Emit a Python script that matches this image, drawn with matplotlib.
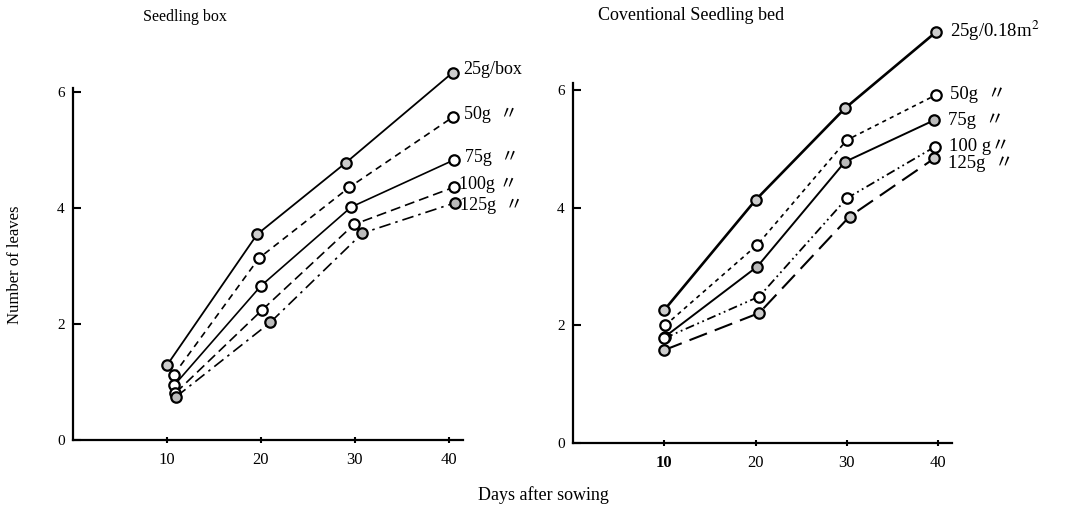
"""Number of leaves vs days after sowing: seedling box vs conventional seedling bed."""
import matplotlib
matplotlib.use("Agg")
import matplotlib.pyplot as plt

# ── data ──────────────────────────────────────────────────────────────────
series_names = ["25g", "50g", "75g", "100g", "125g"]

box_days = [
    [10.0, 19.6, 29.0, 40.4],
    [10.7, 19.8, 29.4, 40.4],
    [10.8, 20.0, 29.6, 40.5],
    [10.9, 20.1, 29.9, 40.5],
    [11.0, 21.0, 30.8, 40.6],
]
box_leaves = [
    [1.29, 3.55, 4.78, 6.34],
    [1.12, 3.14, 4.36, 5.57],
    [0.95, 2.66, 4.02, 4.83],
    [0.81, 2.24, 3.72, 4.36],
    [0.75, 2.03, 3.57, 4.09],
]
box_labels = ["25g/box", "50g  〃", "75g  〃", "100g 〃", "125g  〃"]

bed_days = [
    [10.0, 20.0, 29.8, 39.8],
    [10.1, 20.2, 30.0, 39.8],
    [10.1, 20.2, 29.8, 39.6],
    [10.0, 20.4, 30.0, 39.7],
    [10.0, 20.4, 30.3, 39.6],
]
bed_leaves = [
    [2.26, 4.13, 5.69, 6.99],
    [2.00, 3.37, 5.15, 5.92],
    [1.81, 3.00, 4.78, 5.49],
    [1.78, 2.49, 4.16, 5.04],
    [1.58, 2.21, 3.85, 4.84],
]
bed_labels = ["25g/0.18m$^2$", "50g  〃", "75g  〃", "100 g〃", "125g  〃"]

y_ticks = [0, 2, 4, 6]
x_ticks = [10, 20, 30, 40]

# ── styles ───────────────────────────────────────────────────────────────
FONT = ["Liberation Serif", "Noto Sans CJK JP"]
plt.rcParams["font.family"] = FONT
plt.rcParams["mathtext.fontset"] = "stix"

box_styles = [
    dict(ls="-", lw=1.3),
    dict(ls=(0, (4, 3)), lw=1.2),
    dict(ls="-", lw=1.2),
    dict(ls=(0, (6, 3)), lw=1.2),
    dict(ls=(0, (7, 3, 1.5, 3)), lw=1.2),
]
box_fill = ["#cccccc", "white", "white", "white", "#bbbbbb"]

bed_styles = [
    dict(ls="-", lw=1.9),
    dict(ls=(0, (2.5, 2.5)), lw=1.2),
    dict(ls="-", lw=1.4),
    dict(ls=(0, (5, 2, 1, 2, 1, 2)), lw=1.3),
    dict(ls=(0, (9, 4)), lw=1.5),
]
bed_fill = ["#cccccc", "white", "#bbbbbb", "white", "#cccccc"]

# label offsets (points) relative to last point
box_offsets = [(8, 2), (8, 2), (8, 2), (4, 2), (4, -2)]
bed_offsets = [(10, 1), (10, 0), (10, 0), (10, 0), (10, -4)]

fig = plt.figure(figsize=(10.67, 5.15), dpi=100)
ax1 = fig.add_axes([0.0684, 0.1456, 0.3655, 0.683])
ax2 = fig.add_axes([0.537, 0.1398, 0.355, 0.699])


def draw(ax, days, leaves, styles, fills, labels, offsets, ytop, lab_size):
    for d, v, st, fc, lab, off in zip(days, leaves, styles, fills, labels, offsets):
        ax.plot(d, v, color="black", marker="o", ms=7.5, mfc=fc, mec="black",
                mew=1.6, clip_on=False, **st)
        ax.annotate(lab, xy=(d[-1], v[-1]), xytext=off, textcoords="offset points",
                    ha="left", va="center", fontsize=lab_size, family=FONT,
                    annotation_clip=False)
    ax.set_xlim(0, 41.5)
    ax.set_ylim(0, ytop)
    ax.set_xticks(x_ticks)
    ax.set_yticks(y_ticks)
    ax.tick_params(axis="x", direction="inout", length=5, width=1.5,
                   labelsize=12, pad=6)
    ax.tick_params(axis="y", direction="in", length=6, width=1.5,
                   labelsize=11, pad=6)
    for s in ("top", "right"):
        ax.spines[s].set_visible(False)
    for s in ("left", "bottom"):
        ax.spines[s].set_linewidth(1.6)
    ax.patch.set_alpha(0)


draw(ax1, box_days, box_leaves, box_styles, box_fill, box_labels, box_offsets, 6.07, 13)
draw(ax2, bed_days, bed_leaves, bed_styles, bed_fill, bed_labels, bed_offsets, 6.12, 13.5)

# the first day label on the bed panel is printed bold in the original
ax2.get_xticklabels()[0].set_fontweight("bold")

fig.text(185 / 1067, 1 - 17 / 515, "Seedling box", ha="center", va="center", fontsize=11.5)
fig.text(598 / 1067, 1 - 15 / 515, "Coventional Seedling bed", ha="left", va="center",
         fontsize=13)
fig.text(15 / 1067, 1 - 265 / 515, "Number of leaves", rotation=90, ha="center",
         va="center", fontsize=12)
fig.text(543 / 1067, 1 - 495 / 515, "Days after sowing", ha="center", va="center",
         fontsize=13)

fig.savefig("out.png", dpi=100)
